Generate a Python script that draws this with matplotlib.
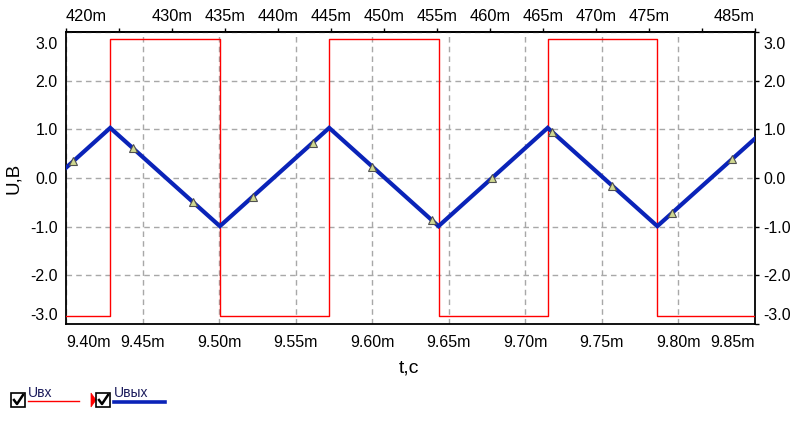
import numpy as np
import matplotlib
matplotlib.use("Agg")
import matplotlib.pyplot as plt
from matplotlib.lines import Line2D
from matplotlib.patches import Rectangle, Polygon
from matplotlib.transforms import ScaledTranslation

plt.rcParams['font.family'] = ['Liberation Sans', 'DejaVu Sans']

# ---- data (time in ms) ----
# square input wave Uвх
u_in_t = [9.400, 9.4289, 9.4289, 9.5005, 9.5005, 9.5719, 9.5719, 9.6433, 9.6433,
          9.7146, 9.7146, 9.7862, 9.7862, 9.850]
u_in_v = [-2.83, -2.83, 2.85, 2.85, -2.83, -2.83, 2.85, 2.85, -2.83,
          -2.83, 2.85, 2.85, -2.83, -2.83]
# triangle output wave Uвых (break points)
u_out_t = [9.400, 9.4289, 9.5005, 9.5719, 9.6433, 9.7146, 9.7862, 9.850]
u_out_v = [0.21, 1.03, -0.99, 1.03, -0.99, 1.03, -0.99, 0.81]
# marker points on Uвых
mark_t = [9.4046, 9.4437, 9.4828, 9.5219, 9.5610, 9.6001, 9.6392, 9.6783,
          9.7174, 9.7565, 9.7956, 9.8347]
mark_v = [0.34, 0.61, -0.49, -0.39, 0.72, 0.23, -0.87, 0.01, 0.94, -0.16, -0.72, 0.39]

x_ticks = [9.40, 9.45, 9.50, 9.55, 9.60, 9.65, 9.70, 9.75, 9.80, 9.85]
x_labels = ["9.40m", "9.45m", "9.50m", "9.55m", "9.60m", "9.65m", "9.70m", "9.75m", "9.80m", "9.85m"]
top_ticks = [420, 425, 430, 435, 440, 445, 450, 455, 460, 465, 470, 475, 480, 485]
top_labels = ["420m", "", "430m", "435m", "440m", "445m", "450m", "455m", "460m",
              "465m", "470m", "475m", "", "485m"]
y_ticks = [-3, -2, -1, 0, 1, 2, 3]
y_labels = ["-3.0", "-2.0", "-1.0", "0.0", "1.0", "2.0", "3.0"]

W, H = 795, 424
fig = plt.figure(figsize=(W / 100, H / 100), dpi=100)
ax = fig.add_axes([66 / W, 1 - 324 / H, (755 - 66) / W, (324 - 32) / H])

ax.plot(u_in_t, u_in_v, color='#ff0000', lw=1.0, zorder=3)
ax.plot(u_out_t, u_out_v, color='#0a23b8', lw=3.0, zorder=4, solid_joinstyle='miter')
ax.plot(mark_t, mark_v, ls='none', marker='^', ms=5.5, mfc='#d0d890', mec='#505050',
        mew=0.8, zorder=5)

ax.set_xlim(9.40, 9.85)
ax.set_ylim(-3, 3)
ax.set_xticks(x_ticks)
ax.set_xticklabels(x_labels)
ax.set_yticks(y_ticks)
ax.set_yticklabels(y_labels)
ax.grid(True, color='#a8a8a8', ls=(0, (4, 3)), lw=1.0)

fs = 11.5
ax.tick_params(axis='x', bottom=True, length=0, pad=8, labelsize=fs)
ax.tick_params(axis='y', left=True, right=True, labelright=True, direction='out',
               labelsize=fs)
ax.yaxis.set_tick_params(which='major', left=False, pad=6.5)
ax.tick_params(axis='y', which='major', right=True, length=3, width=1, pad=3)

for sp in ax.spines.values():
    sp.set_linewidth(1.3)

# end ticks on bottom axis
ax.set_xticks([9.40, 9.85], minor=True)
ax.tick_params(axis='x', which='minor', length=4, width=1, direction='out')

# secondary top axis
def fwd(t):
    return 420 + (np.asarray(t) - 9.40) * (65 / 0.45)

def inv(v):
    return 9.40 + (np.asarray(v) - 420) * (0.45 / 65)

top = ax.secondary_xaxis('top', functions=(fwd, inv))
top.set_xticks(top_ticks)
top.set_xticklabels(top_labels)
top.tick_params(axis='x', direction='out', length=3, width=1, pad=3, labelsize=fs + 0.3)
top.spines['top'].set_linewidth(1.3)

fig.canvas.draw()
# alignments at the edges
xt = ax.xaxis.get_major_ticks()
xt[0].label1.set_horizontalalignment('left')
xt[-1].label1.set_horizontalalignment('right')
tt = top.xaxis.get_major_ticks()
tt[0].label2.set_horizontalalignment('left')
tt[-1].label2.set_horizontalalignment('right')
yt = ax.yaxis.get_major_ticks()
for lab in (yt[-1].label1, yt[-1].label2):
    lab.set_transform(lab.get_transform() + ScaledTranslation(0, -0.11, fig.dpi_scale_trans))
for lab in (yt[0].label1, yt[0].label2):
    lab.set_transform(lab.get_transform() + ScaledTranslation(0, 0.10, fig.dpi_scale_trans))

# axis labels
fig.text(14 / W, 1 - 178 / H, "U,B", rotation=90, ha='center', va='center', fontsize=13.5)
fig.text(409 / W, 1 - 368 / H, "t,c", ha='center', va='center', fontsize=14)

# legend drawn in pixel coordinates
def P(x, y):
    return (x / W, 1 - y / H)

def checkbox(x0, y0):
    fig.add_artist(Rectangle(P(x0, y0 + 14), 14 / W, 14 / H, transform=fig.transFigure,
                             fill=False, ec='black', lw=1.2))
    xs, ys = zip(*[P(x0 + 3, y0 + 7), P(x0 + 6, y0 + 11), P(x0 + 12, y0 + 2)])
    fig.add_artist(Line2D(xs, ys, transform=fig.transFigure, color='black', lw=1.8))

checkbox(11, 393)
fig.text(28 / W, 1 - 397 / H, "Uвх", fontsize=10, color='#1c1c5c', ha='left', va='baseline')
fig.add_artist(Line2D([28 / W, 79 / W], [1 - 401 / H] * 2, transform=fig.transFigure,
                      color='#ff0000', lw=1.0))
fig.add_artist(Polygon([P(91, 393), P(96, 400), P(91, 407)], closed=True,
                       transform=fig.transFigure, fc='#ff0000', ec='#ff0000', lw=0.5))
checkbox(96, 393)
fig.text(114 / W, 1 - 397 / H, "Uвых", fontsize=10, color='#1c1c5c', ha='left', va='baseline')
fig.add_artist(Line2D([114 / W, 165 / W], [1 - 402 / H] * 2, transform=fig.transFigure,
                      color='#0a23b8', lw=2.6))

fig.savefig("out.png", dpi=100)
